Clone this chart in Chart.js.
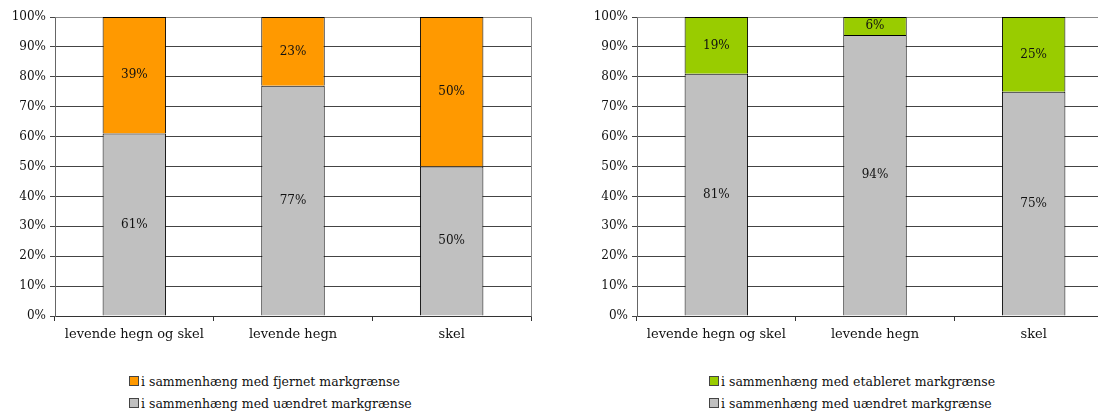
<!DOCTYPE html>
<html>
<head>
<meta charset="utf-8">
<script src="https://cdn.jsdelivr.net/npm/chart.js@4"></script>
<style>
  html, body { margin: 0; padding: 0; background: #fff; overflow: hidden; }
  body { width: 1098px; height: 412px; position: relative; font-family: "DejaVu Serif", serif; }
  .box { position: absolute; top: 0; height: 350px; }
  .legend { position: absolute; font-size: 12.5px; color: #111; line-height: 22px; }
  .legend span.sw { display: inline-block; width: 8px; height: 8px; border: 1px solid #444; margin-right: 2px; vertical-align: 0px; }
</style>
</head>
<body>
<div class="box" style="left:0;width:549px;"><canvas id="chartLeft"></canvas></div>
<div class="box" style="left:582px;width:540px;"><canvas id="chartRight"></canvas></div>
<div class="legend" style="left:129px;top:371px;">
  <div><span class="sw" style="background:#ff9900"></span>i sammenhæng med fjernet markgrænse</div>
  <div><span class="sw" style="background:#c0c0c0"></span>i sammenhæng med uændret markgrænse</div>
</div>
<div class="legend" style="left:709px;top:371px;">
  <div><span class="sw" style="background:#99cc00"></span>i sammenhæng med etableret markgrænse</div>
  <div><span class="sw" style="background:#c0c0c0"></span>i sammenhæng med uændret markgrænse</div>
</div>
<script>
const categories = ["levende hegn og skel", "levende hegn", "skel"];
const unchangedLeft = [61, 77, 50];
const removed = [39, 23, 50];
const unchangedRight = [81, 94, 75];
const established = [19, 6, 25];
const yTickLabels = ["0%", "10%", "20%", "30%", "40%", "50%", "60%", "70%", "80%", "90%", "100%"];

const fontFamily = "'DejaVu Serif', serif";
Chart.defaults.font.family = fontFamily;
Chart.defaults.font.size = 12;
Chart.defaults.color = "#111";

// value labels in the middle of each segment
const valueLabels = {
  id: "valueLabels",
  afterDatasetsDraw(chart) {
    const ctx = chart.ctx;
    ctx.save();
    ctx.font = "12px " + fontFamily;
    ctx.fillStyle = "#111";
    ctx.textAlign = "center";
    ctx.textBaseline = "middle";
    chart.data.datasets.forEach((ds, i) => {
      chart.getDatasetMeta(i).data.forEach((bar, j) => {
        const mid = (bar.y + bar.base) / 2;
        ctx.fillText(ds.data[j] + "%", bar.x, mid);
      });
    });
    ctx.restore();
  },
};

// grey frame round the plot area
const plotFrame = {
  id: "plotFrame",
  beforeDatasetsDraw(chart) {
    const a = chart.chartArea;
    const ctx = chart.ctx;
    ctx.save();
    ctx.strokeStyle = "#888";
    ctx.lineWidth = 1;
    ctx.beginPath();
    ctx.moveTo(Math.round(a.left) + 0.5, Math.round(a.top) + 0.5);
    ctx.lineTo(Math.round(a.right) + 0.5, Math.round(a.top) + 0.5);
    ctx.lineTo(Math.round(a.right) + 0.5, Math.round(a.bottom) + 0.5);
    ctx.stroke();
    ctx.restore();
  },
};

function makeChart(id, bottomData, topData, topColor, paddingRight) {
  new Chart(document.getElementById(id), {
    type: "bar",
    data: {
      labels: categories,
      datasets: [
        {
          data: bottomData,
          backgroundColor: "#c0c0c0",
          borderColor: "#000",
          borderWidth: 1,
          categoryPercentage: 0.4,
          barPercentage: 1,
        },
        {
          data: topData,
          backgroundColor: topColor,
          borderColor: "#000",
          borderWidth: 1,
          categoryPercentage: 0.4,
          barPercentage: 1,
        },
      ],
    },
    options: {
      responsive: true,
      maintainAspectRatio: false,
      animation: false,
      layout: { padding: { top: 17, right: paddingRight, left: 0, bottom: 0 } },
      plugins: { legend: { display: false }, tooltip: { enabled: false } },
      scales: {
        x: {
          stacked: true,
          grid: { drawOnChartArea: false, drawTicks: true, tickLength: 5, color: "#333", offset: true },
          border: { color: "#333" },
          ticks: { padding: 6, color: "#111", font: { size: 13 } },
          afterFit(scale) { scale.height = 34; },
        },
        y: {
          stacked: true,
          min: 0,
          max: 100,
          grid: { color: "#444", tickLength: 5 },
          border: { color: "#666" },
          ticks: {
            stepSize: 10,
            padding: 4,
            color: "#111",
            font: { size: 12 },
            callback: (v) => yTickLabels[v / 10],
          },
          afterFit(scale) { scale.width = 55; },
        },
      },
    },
    plugins: [plotFrame, valueLabels],
  });
}

makeChart("chartLeft", unchangedLeft, removed, "#ff9900", 18);
makeChart("chartRight", unchangedRight, established, "#99cc00", 9);
</script>
</body>
</html>
